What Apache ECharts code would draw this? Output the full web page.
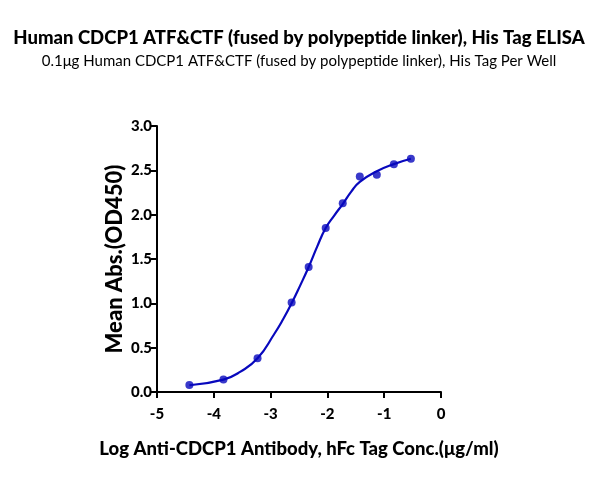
<!DOCTYPE html>
<html>
<head>
<meta charset="utf-8">
<script src="https://cdn.jsdelivr.net/npm/echarts@6/dist/echarts.min.js"></script>
<style>
html, body { margin: 0; padding: 0; background: #fff; }
#chart { width: 598px; height: 480px; }
</style>
</head>
<body>
<div id="chart"></div>
<script>
// 测量点 (log浓度, OD450)
var logConc = [-4.43, -3.83, -3.23, -2.63, -2.33, -2.03, -1.73, -1.43, -1.13, -0.83, -0.53];
var meanAbs = [0.08, 0.14, 0.38, 1.01, 1.41, 1.85, 2.13, 2.43, 2.45, 2.57, 2.63];
// 拟合曲线
var fitX = [-4.43, -3.83, -3.53, -3.23, -2.93, -2.78, -2.63, -2.48, -2.33, -2.18, -2.03, -1.88, -1.73, -1.58, -1.43, -1.13, -0.83, -0.53];
var fitY = [0.076, 0.14, 0.23, 0.38, 0.66, 0.82, 1.0, 1.2, 1.41, 1.64, 1.85, 1.99, 2.12, 2.26, 2.37, 2.49, 2.57, 2.63];
var xTicks = [-5, -4, -3, -2, -1, 0];
var yTicks = [0, 0.5, 1, 1.5, 2, 2.5, 3];

var FONT = 'Lato';
var BLUE = '#0808bd';

function pairs(a, b) {
    var out = [];
    for (var i = 0; i < a.length; i++) out.push([a[i], b[i]]);
    return out;
}

var myChart = echarts.init(document.getElementById('chart'));
var option = {
    animation: false,
    title: [{
        text: 'Human CDCP1 ATF&CTF (fused by polypeptide linker), His Tag ELISA',
        left: 'center',
        top: 24,
        textStyle: { fontFamily: FONT, fontSize: 18.5, fontWeight: 900, color: '#000' }
    }, {
        text: '0.1μg Human CDCP1 ATF&CTF (fused by polypeptide linker), His Tag Per Well',
        left: 'center',
        top: 49,
        textStyle: { fontFamily: FONT, fontSize: 15, fontWeight: 'normal', color: '#000' }
    }],
    grid: { left: 157, right: 157, top: 126, bottom: 88 },
    xAxis: {
        type: 'value',
        min: -5,
        max: 0,
        interval: 1,
        name: 'Log Anti-CDCP1 Antibody, hFc Tag Conc.(μg/ml)',
        nameLocation: 'middle',
        nameGap: 48,
        nameTextStyle: { fontFamily: FONT, fontSize: 18.5, fontWeight: 900, color: '#000' },
        axisLine: { onZero: false, lineStyle: { color: '#000', width: 2 } },
        axisTick: { show: true, length: 6, lineStyle: { color: '#000', width: 2 } },
        axisLabel: {
            fontFamily: FONT, fontSize: 15, fontWeight: 900, color: '#000', margin: 15,
            formatter: function(v) { return xTicks.indexOf(v) > -1 ? String(v) : ''; }
        },
        splitLine: { show: false }
    },
    yAxis: {
        type: 'value',
        min: 0,
        max: 3,
        interval: 0.5,
        name: 'Mean Abs.(OD450)',
        nameLocation: 'middle',
        nameGap: 31,
        nameTextStyle: { fontFamily: FONT, fontSize: 22, fontWeight: 900, color: '#000' },
        axisLine: { show: true, onZero: false, lineStyle: { color: '#000', width: 2 } },
        axisTick: { show: true, length: 6, lineStyle: { color: '#000', width: 2 } },
        axisLabel: {
            fontFamily: FONT, fontSize: 15, fontWeight: 900, color: '#000', margin: 5,
            formatter: function(v) { return yTicks.indexOf(v) > -1 ? v.toFixed(1) : ''; }
        },
        splitLine: { show: false }
    },
    series: [{
        name: 'fit',
        type: 'line',
        smooth: true,
        showSymbol: false,
        lineStyle: { color: BLUE, width: 2.2 },
        data: pairs(fitX, fitY),
        z: 2
    }, {
        name: 'points',
        type: 'scatter',
        symbol: 'circle',
        symbolSize: 8,
        itemStyle: { color: BLUE },
        data: pairs(logConc, meanAbs),
        z: 3
    }]
};
myChart.setOption(option);
</script>
</body>
</html>
